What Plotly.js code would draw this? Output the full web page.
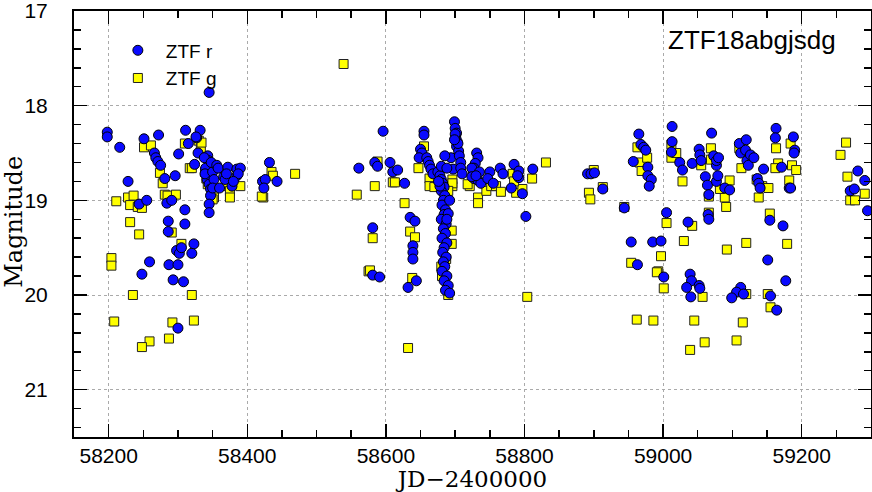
<!DOCTYPE html>
<html>
<head>
<meta charset="utf-8">
<script src="https://cdn.plot.ly/plotly-3.0.1.min.js"></script>
<style>html,body{margin:0;padding:0;background:#fff;}#chart{width:872px;height:492px;}</style>
</head>
<body>
<div id="chart"></div>
<script>
// ZTF r band (JD-2400000, magnitude)
const rJD = [
58198,58198,58216,58228,58244,58251,58255,58266,58268,58271,58275,58272,58281,58284,58291,58296,58301,58311,58310,58315,
58327,58332,58326,58329,58324,58345,58286,58286,58310,58323,58298,58302,58305,58320,58259,58248,58287,58300,58293,58308,
58300,58343,58344,58345,58346,58343,58342,58345,58347,58347,58345,58345,58338,58340,58339,58350,58352,58348,58356,58358,
58366,58368,58372,58378,58385,58390,58385,58387,58350,58360,58380,58370,58432,58422,58426,58424,58443,
58596,58561,58584,58588,58606,58610,58617,58627,58655,58655,58650,58652,58648,58659,58661,58663,58665,58668,58635,58642,
58639,58639,58639,58581,58581,58591,58644,58632,
58675,58678,58680,58682,58684,58680,58685,58683,58681,58686,58684,58680,58687,58683,58686,58681,58688,58684,58682,58687,
58683,58685,58681,58688,58684,58690,58686,58692,58692,58690,58688,58678,58676,
58694,58697,58699,58700,58702,58701,58703,58702,58705,58706,58708,58708,58710,58700,58704,58699,58685,58680,58688,
58731,58733,58729,58727,58726,58727,58733,58737,58724,58724,58735,58730,58750,58747,58755,58765,58769,
58785,58792,58792,58790,58781,58797,58812,58802,
58891,58896,58901,58913,58944,58965,58968,58972,58975,58957,58978,58978,58983,58980,58954,58985,58997,58963,59001,59005,
59013,59013,59012,59024,59028,59036,59042,59052,59053,59055,59070,59073,59077,59077,59080,59061,59064,59066,59077,59065,
59066,59039,59041,59034,59040,59052,59053,59079,59089,59096,59110,59112,59120,59119,59121,59123,59126,59131,59145,59136,
59138,59140,59163,59162,59188,59190,59189,59171,59182,59184,59154,59173,59151,59177,59112,59106,59099,59116,59155,59164,
59281,59291,59270,59276,59295
];
const rMag = [
18.28,18.33,18.44,18.80,19.04,18.35,19.00,18.50,18.55,18.59,18.63,18.31,18.77,19.03,19.00,18.74,18.51,18.26,19.10,18.40,
18.34,18.26,18.33,18.50,18.62,17.86,19.22,19.33,19.25,19.46,19.53,19.56,19.50,19.56,19.65,19.78,19.68,19.68,19.84,19.86,
20.35,18.53,18.58,18.63,18.68,18.73,18.78,18.83,18.88,18.95,19.04,19.13,18.55,18.66,18.72,18.70,18.78,18.60,18.63,18.66,
18.75,18.78,18.65,18.85,18.67,18.66,18.74,18.72,18.87,18.87,18.80,18.72,18.60,18.80,18.78,18.87,18.80,
18.27,18.66,18.60,18.64,18.60,18.70,18.68,18.82,18.27,18.31,18.46,18.50,18.55,18.55,18.59,18.63,18.67,18.72,19.18,19.22,
19.48,19.55,19.62,19.29,19.79,19.81,19.85,19.92,
18.70,18.74,18.78,18.82,18.86,18.90,18.95,19.00,19.05,19.10,19.15,19.20,19.25,19.30,19.35,19.40,19.45,19.50,19.55,19.60,
19.65,19.70,19.75,19.80,19.85,19.90,19.95,19.98,19.00,19.14,19.20,18.85,18.80,
18.55,18.67,18.17,18.24,18.29,18.34,18.38,18.43,18.48,18.53,18.60,18.66,18.72,18.30,18.40,18.36,18.53,18.64,18.66,
18.50,18.55,18.61,18.66,18.71,18.77,18.79,18.82,18.66,18.75,18.70,18.74,18.70,18.77,18.82,18.66,18.72,
18.62,18.69,18.76,18.74,18.87,18.93,18.67,19.17,
18.72,18.72,18.71,18.88,19.08,18.30,18.41,18.44,18.47,18.59,18.65,18.74,18.78,18.85,19.44,19.44,19.43,19.68,19.81,19.13,
18.22,18.38,18.49,18.60,18.68,19.23,18.61,18.46,18.52,18.58,18.29,18.53,18.63,18.58,18.55,18.75,18.84,18.94,18.80,19.15,
19.20,19.78,19.85,19.92,20.02,19.90,19.93,18.74,18.87,18.89,18.40,18.50,18.36,18.47,18.58,18.63,18.52,18.55,18.67,18.77,
18.82,18.87,18.24,18.34,18.33,18.47,18.50,18.65,18.87,18.87,19.21,19.27,19.63,19.85,19.92,19.97,20.03,19.99,20.01,20.16,
18.69,18.79,18.90,18.88,19.11
];
// ZTF g band
const gJD = [
58211,58228,58231,58236,58242,58248,58251,58261,58274,58278,58281,58285,58297,58310,58330,58333,58317,58231,58244,58291,
58305,58204,58204,58235,58320,58208,58292,58323,58287,58259,58248,58334,58320,58339,58341,58343,58352,58350,58370,58375,
58375,58390,58435,58437,58423,58421,58469,
58539,58558,58584,58588,58610,58613,58627,58581,58635,58642,58575,58577,58638,58632,58655,58647,58663,58663,58696,58696,
58695,58695,58687,58680,58681,58690,58831,58811,58696,58721,58718,58733,58733,58745,58752,58759,58766,58788,58797,58783,
58785,58804,58678,58670,58690,
58900,58913,58893,58895,58944,58963,58966,58969,58977,59005,59030,58997,58954,58993,58991,59001,59012,59012,59019,59028,
59042,59055,59069,59069,59066,59066,59057,58962,58986,59045,59060,59039,59110,59113,59096,59089,59091,59082,59135,59143,
59152,59138,59163,59166,59162,59184,59186,59192,59182,59154,59120,59092,59179,59120,59151,59155,59115,59106,59264,59256,
59266,59270,59277,59291
];
const gMag = [
19.01,18.97,19.05,18.95,19.07,19.08,18.44,18.42,18.71,18.82,18.94,18.95,18.94,18.40,18.37,18.45,18.66,19.23,19.36,19.34,
19.46,19.61,19.69,20.00,20.00,20.28,20.29,20.27,20.46,20.49,20.55,18.39,18.66,18.70,18.77,18.83,18.97,18.99,18.85,18.90,
18.97,18.85,18.70,18.74,18.97,18.96,18.72,
17.56,18.94,18.85,18.59,18.81,18.81,19.03,19.40,19.33,19.39,19.75,19.74,19.82,20.56,18.43,18.66,18.77,18.85,18.78,18.85,
19.32,19.46,19.62,19.70,19.80,20.00,18.60,18.77,18.82,18.85,18.83,18.97,19.03,18.90,18.85,18.85,18.91,18.92,18.88,18.72,
18.80,20.02,18.80,18.86,18.90,
18.68,18.86,18.92,18.99,19.07,18.44,18.60,18.69,18.55,19.24,19.43,19.59,19.66,19.75,19.76,19.93,18.41,18.55,18.50,18.80,
19.27,18.63,18.45,18.57,18.96,19.13,20.02,20.26,20.27,20.27,20.50,20.58,18.45,18.66,18.79,18.97,19.07,18.88,18.78,18.85,
18.87,18.97,18.45,18.61,18.66,18.40,18.63,18.68,18.79,19.14,19.45,19.52,19.46,19.99,19.99,20.13,20.29,20.48,18.39,18.52,
18.75,19.00,19.00,18.93
];
// Axis tick values
const xTicks = [58200, 58400, 58600, 58800, 59000, 59200];
const yTicks = [17, 18, 19, 20, 21];

const traceR = {
  x: rJD, y: rMag, type: 'scatter', mode: 'markers', name: 'ZTF r', legendgroup: 'r',
  marker: {symbol: 'circle', size: 10, color: '#0a0aff', line: {color: '#000', width: 1}}
};
const traceG = {
  x: gJD, y: gMag, type: 'scatter', mode: 'markers', name: 'ZTF g', legendgroup: 'g',
  marker: {symbol: 'square', size: 9, color: '#ffff00', line: {color: '#222', width: 1}}
};

const axisCommon = {
  showline: true, linecolor: '#000', linewidth: 2, mirror: 'ticks',
  ticks: 'inside', ticklen: 13, tickwidth: 1.5, tickcolor: '#000',
  showgrid: true, gridcolor: '#aaa', griddash: 'dot', gridwidth: 1,
  zeroline: false, tickmode: 'array', tickformat: 'd', ticklabeloverflow: 'allow',
  tickfont: {family: 'Liberation Sans, Arial, sans-serif', size: 21, color: '#000'}
};

const layout = {
  width: 872, height: 492,
  margin: {l: 74, r: 1, t: 11, b: 55},
  paper_bgcolor: '#fff', plot_bgcolor: '#fff',
  showlegend: true,
  legend: {
    x: 0.045, y: 0.952, xanchor: 'left', yanchor: 'top',
    bgcolor: 'rgba(0,0,0,0)', borderwidth: 0,
    font: {family: 'Liberation Sans, Arial, sans-serif', size: 19, color: '#000'},
    itemwidth: 46, tracegroupgap: 4, traceorder: 'reversed'
  },
  xaxis: Object.assign({}, axisCommon, {
    range: [58150, 59300], tickvals: xTicks, ticktext: xTicks.map(String),
    ticklabelstandoff: -1,
    minor: {dtick: 50, tick0: 58200, ticks: 'inside', ticklen: 7, tickwidth: 1.5, tickcolor: '#000', showgrid: false},
    title: {text: 'JD\u22122400000', standoff: 5,
      font: {family: 'DejaVu Serif, serif', size: 23, color: '#000'}}
  }),
  yaxis: Object.assign({}, axisCommon, {
    range: [21.5, 17], tickvals: yTicks, ticktext: yTicks.map(String),
    ticklabelstandoff: 20,
    minor: {dtick: 0.2, tick0: 17, ticks: 'inside', ticklen: 7, tickwidth: 1.5, tickcolor: '#000', showgrid: false}
  }),
  annotations: [{
    xref: 'paper', yref: 'paper', x: 0.9586, y: 0.972, xanchor: 'right', yanchor: 'top',
    text: 'ZTF18abgjsdg', showarrow: false,
    font: {family: 'Liberation Sans, Arial, sans-serif', size: 26, color: '#000'}
  }, {
    xref: 'paper', yref: 'paper', x: -0.0753, y: 0.505, xanchor: 'center', yanchor: 'middle',
    text: 'Magnitude', textangle: -90, showarrow: false,
    font: {family: 'DejaVu Serif, serif', size: 24, color: '#000'}
  }]
};

Plotly.newPlot('chart', [traceG, traceR], layout, {staticPlot: true, displayModeBar: false});
</script>
</body>
</html>
